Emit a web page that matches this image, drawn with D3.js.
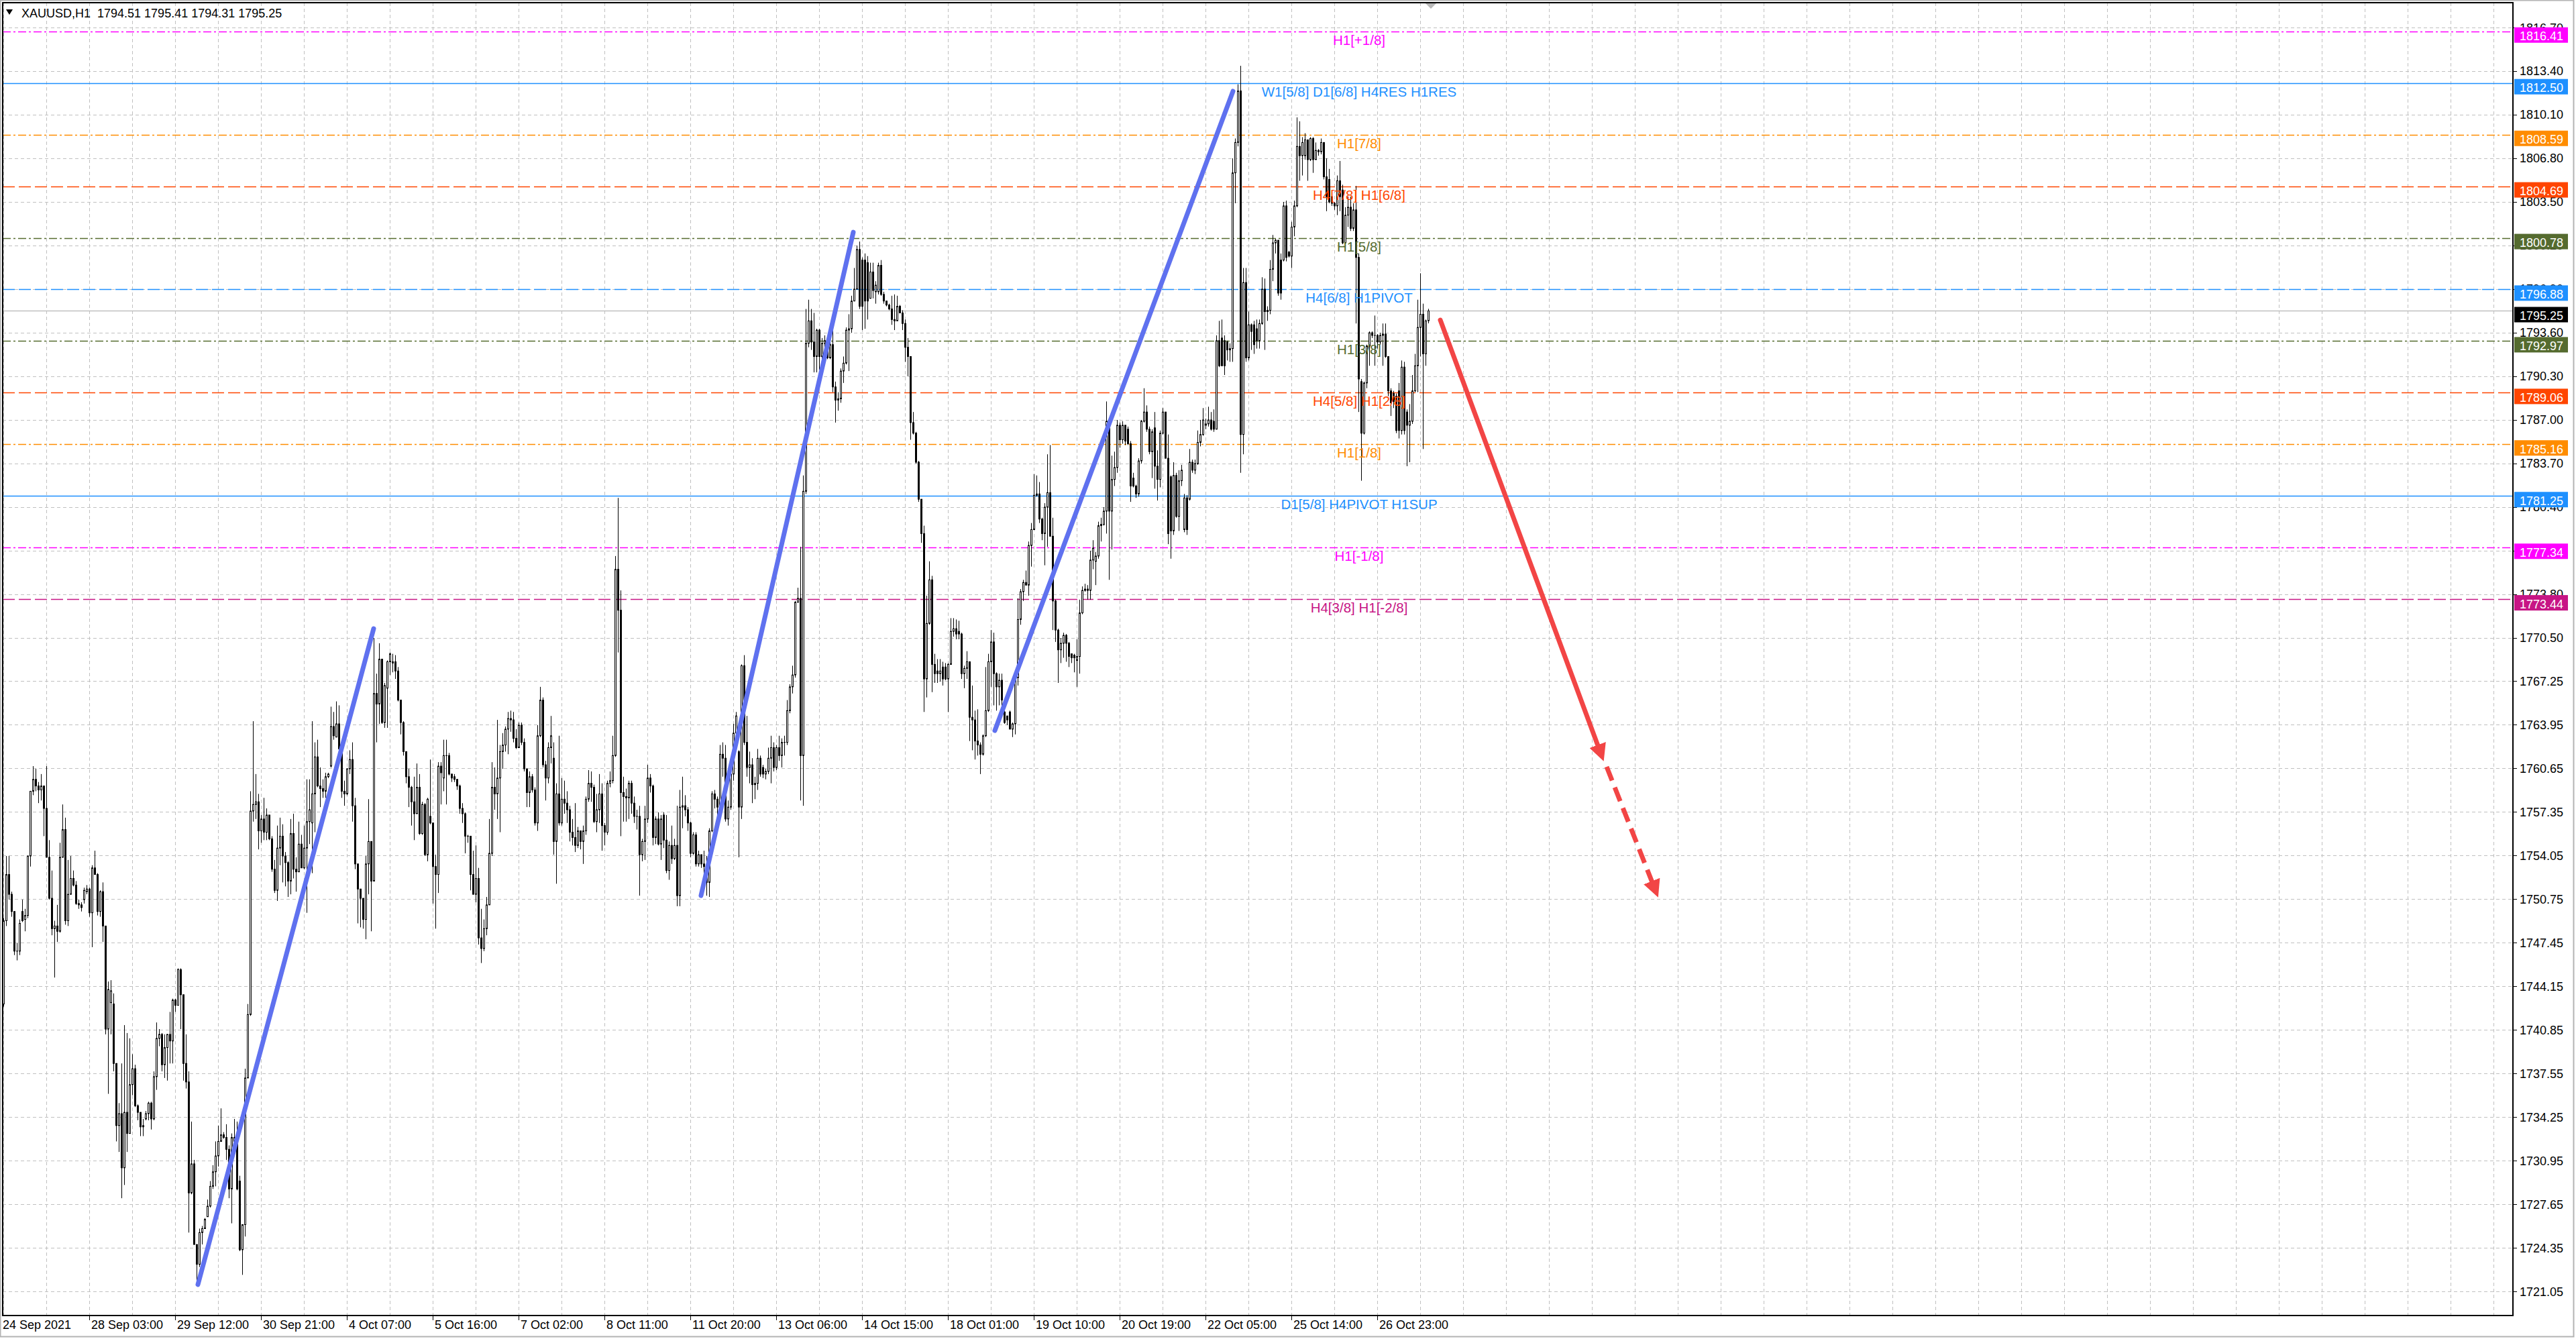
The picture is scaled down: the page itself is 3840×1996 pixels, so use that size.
<!DOCTYPE html>
<html>
<head>
<meta charset="utf-8">
<script src="https://cdn.jsdelivr.net/npm/d3@7"></script>
<style>
  html, body { margin: 0; padding: 0; background: #fff; }
  svg { display: block; }
  text { font-family: "Liberation Sans", Arial, sans-serif; }
</style>
</head>
<body>
<div id="chart"></div>
<script>
// XAUUSD H1 bars (one entry per hourly bar)
const opens = [
1744.0,1742.8,1749.1,1752.6,1751.1,1749.8,1746.8,1746.8,1749.8,1749.2,
1749.5,1754.0,1758.9,1759.8,1759.3,1759.0,1759.3,1757.6,1753.9,1750.8,
1748.5,1748.7,1748.3,1753.9,1756.0,1749.1,1751.1,1752.3,1751.8,1750.4,
1750.3,1750.7,1751.3,1751.5,1749.7,1753.1,1752.6,1749.8,1751.3,1748.7,
1740.9,1742.9,1742.8,1738.3,1733.6,1734.5,1730.4,1734.6,1733.0,1736.7,
1737.9,1735.1,1734.6,1733.5,1734.1,1734.5,1735.3,1734.1,1737.3,1740.2,
1740.5,1738.2,1739.5,1740.5,1740.0,1743.1,1742.7,1745.4,1743.5,1738.3,
1736.9,1728.5,1730.7,1724.6,1723.1,1725.5,1725.8,1726.7,1727.5,1729.0,
1730.1,1731.3,1732.4,1732.9,1732.7,1731.8,1728.8,1732.4,1732.7,1729.4,
1724.2,1726.1,1737.2,1742.0,1757.4,1757.9,1758.1,1755.9,1756.8,1755.8,
1757.1,1755.3,1753.0,1751.4,1754.6,1755.5,1754.0,1753.5,1752.1,1755.7,
1753.0,1752.8,1754.9,1753.1,1754.6,1756.6,1756.5,1758.7,1761.5,1759.3,
1759.1,1758.9,1760.0,1760.8,1763.8,1763.0,1764.0,1762.1,1758.9,1758.7,
1760.6,1761.3,1757.8,1753.4,1751.5,1750.8,1749.2,1753.4,1755.1,1752.1,
1766.3,1765.5,1768.9,1764.1,1766.7,1768.7,1768.6,1768.7,1768.0,1765.8,
1764.1,1761.9,1760.0,1759.2,1758.1,1757.2,1759.2,1755.7,1757.9,1754.1,
1757.0,1756.5,1753.2,1752.6,1760.8,1759.9,1761.6,1761.6,1760.2,1760.0,
1759.8,1759.3,1757.6,1757.2,1755.5,1755.5,1752.6,1751.1,1752.3,1747.8,
1747.0,1748.5,1750.3,1754.2,1759.2,1758.7,1759.9,1761.9,1762.4,1763.6,
1764.4,1764.3,1762.9,1762.2,1763.9,1762.6,1760.6,1758.8,1760.0,1759.0,
1756.5,1763.1,1765.8,1760.9,1759.9,1762.2,1761.4,1755.1,1758.7,1756.5,
1758.3,1758.0,1757.5,1755.8,1755.4,1754.8,1755.9,1755.1,1755.9,1758.3,
1759.5,1759.2,1756.6,1757.5,1758.7,1756.3,1755.8,1759.5,1759.7,1761.6,
1775.7,1772.6,1758.8,1758.5,1758.4,1759.5,1758.0,1757.0,1757.0,1754.1,
1755.1,1756.8,1759.9,1759.3,1755.4,1756.8,1754.9,1757.1,1755.2,1752.9,
1754.8,1753.8,1754.8,1751.0,1757.7,1757.8,1757.5,1756.5,1754.2,1755.6,
1753.4,1754.1,1753.4,1753.2,1752.0,1755.9,1758.7,1758.3,1757.7,1761.7,
1761.4,1756.8,1757.7,1760.2,1763.3,1761.9,1757.7,1768.4,1762.6,1760.7,
1760.9,1759.4,1759.5,1761.4,1760.7,1760.2,1760.4,1761.4,1762.2,1760.7,
1762.2,1761.6,1762.6,1762.6,1765.0,1766.8,1767.7,1773.2,1773.5,1761.6,
1781.6,1792.8,1794.5,1792.9,1791.8,1793.8,1791.8,1792.8,1793.0,1791.7,
1792.7,1789.5,1788.5,1788.6,1790.7,1791.3,1793.8,1793.9,1796.0,1796.9,
1799.9,1799.1,1799.1,1798.9,1796.2,1798.2,1796.7,1796.7,1798.7,1796.5,
1796.0,1795.7,1795.4,1794.6,1794.5,1795.6,1795.1,1794.3,1792.5,1791.8,
1786.8,1786.0,1783.8,1781.0,1778.4,1767.4,1771.6,1774.9,1768.5,1768.0,
1767.8,1768.3,1768.3,1767.4,1768.5,1771.0,1771.2,1771.0,1770.8,1767.8,
1768.2,1768.7,1764.5,1764.3,1762.7,1762.4,1761.7,1763.1,1765.0,1768.7,
1770.2,1767.8,1766.8,1767.3,1764.9,1764.6,1764.9,1763.6,1764.0,1767.5,
1771.9,1774.0,1774.7,1774.5,1777.5,1778.7,1781.3,1781.4,1779.5,1778.4,
1780.4,1781.5,1778.2,1773.3,1771.1,1769.6,1770.1,1770.7,1770.1,1769.3,
1769.2,1768.8,1769.1,1772.4,1774.1,1774.2,1774.1,1776.4,1776.3,1776.7,
1779.0,1779.1,1780.1,1786.9,1780.1,1782.5,1783.4,1786.6,1785.5,1786.6,
1786.3,1785.2,1782.6,1782.0,1781.4,1783.9,1786.9,1787.6,1786.3,1784.6,
1786.4,1783.5,1782.5,1786.0,1787.6,1784.1,1782.7,1778.6,1782.8,1779.7,
1782.4,1778.7,1781.1,1781.0,1783.8,1783.2,1783.7,1785.3,1785.9,1786.6,
1786.7,1787.0,1786.9,1786.3,1793.0,1793.2,1793.0,1792.9,1792.3,1792.4,
1805.7,1808.0,1811.9,1785.9,1797.4,1791.7,1794.2,1794.2,1793.9,1793.0,
1794.3,1796.9,1795.2,1795.3,1798.4,1800.4,1800.6,1799.1,1799.1,1803.2,
1799.7,1799.4,1801.6,1803.2,1807.7,1807.0,1807.0,1808.2,1806.7,1808.3,
1806.7,1807.4,1807.3,1808.0,1805.4,1805.2,1803.9,1803.4,1803.2,1805.1,
1804.4,1800.4,1802.5,1803.1,1801.5,1802.9,1799.3,1789.9,1786.0,1789.8,
1792.6,1793.6,1793.4,1793.4,1792.9,1793.4,1793.5,1791.8,1789.2,1789.0,
1788.8,1789.2,1786.2,1791.0,1787.6,1786.6,1786.9,1789.2,1791.1,1794.0,
1795.0,1792.0,1794.51
];
const highs = [
1746.0,1749.3,1754.0,1754.0,1751.3,1749.8,1747.4,1749.2,1750.7,1750.0,
1754.0,1758.9,1760.8,1760.6,1759.6,1760.2,1759.3,1760.8,1755.2,1752.9,
1749.1,1750.3,1755.0,1757.9,1756.9,1753.7,1754.0,1752.9,1752.1,1750.7,
1750.5,1751.6,1751.8,1751.6,1753.3,1754.4,1752.7,1751.4,1752.0,1748.7,
1744.5,1744.6,1743.6,1738.3,1735.3,1738.3,1741.2,1740.6,1740.2,1739.0,
1738.2,1735.2,1734.6,1734.1,1734.7,1735.4,1735.4,1737.7,1741.4,1740.9,
1740.6,1740.5,1740.5,1742.2,1743.2,1743.2,1745.5,1745.5,1743.5,1740.5,
1737.7,1733.9,1731.0,1724.6,1725.8,1726.0,1726.6,1728.0,1729.4,1730.6,
1732.4,1733.6,1734.9,1733.1,1733.7,1732.1,1733.0,1734.1,1733.9,1729.8,
1726.1,1737.9,1742.8,1758.9,1764.2,1760.2,1758.7,1757.1,1758.4,1757.6,
1757.1,1755.5,1753.7,1756.3,1756.9,1756.4,1754.3,1753.6,1756.8,1757.2,
1753.9,1756.6,1755.6,1756.3,1759.8,1759.8,1764.2,1762.6,1762.8,1760.7,
1759.8,1760.3,1760.3,1765.3,1764.9,1765.7,1765.4,1762.1,1759.7,1760.6,
1762.0,1762.6,1758.4,1753.4,1751.5,1750.8,1754.0,1758.3,1755.1,1770.5,
1767.8,1770.1,1768.9,1767.1,1768.8,1769.4,1769.3,1769.2,1768.3,1765.8,
1764.2,1761.9,1760.6,1759.3,1760.0,1761.0,1760.2,1758.1,1758.0,1758.4,
1761.3,1756.5,1754.1,1761.1,1761.1,1762.8,1762.8,1761.8,1760.2,1760.2,
1759.8,1759.4,1758.0,1757.3,1755.6,1755.5,1754.4,1754.8,1753.1,1750.0,
1749.2,1750.9,1756.8,1761.1,1760.7,1764.3,1762.4,1763.3,1763.8,1764.9,
1765.0,1764.9,1763.6,1764.1,1764.1,1762.9,1760.6,1760.4,1760.2,1759.2,
1763.9,1766.8,1766.0,1761.2,1762.6,1764.6,1762.6,1759.5,1763.1,1759.9,
1759.7,1758.9,1757.8,1756.8,1758.0,1756.2,1755.9,1756.3,1758.5,1760.5,
1760.4,1759.4,1758.7,1760.2,1759.5,1756.5,1759.7,1760.4,1763.1,1776.7,
1781.1,1774.1,1760.0,1759.1,1759.7,1759.7,1758.5,1757.5,1757.8,1755.3,
1757.8,1760.9,1760.2,1759.4,1757.0,1757.3,1757.1,1757.3,1757.1,1755.1,
1756.3,1755.3,1757.8,1759.0,1760.0,1758.6,1757.7,1756.6,1755.8,1755.8,
1754.4,1754.1,1754.4,1754.0,1756.1,1758.9,1759.0,1758.5,1762.4,1762.6,
1762.4,1758.2,1760.4,1764.0,1764.9,1762.0,1768.5,1769.2,1764.6,1761.9,
1761.4,1760.0,1762.1,1761.6,1760.9,1760.6,1762.2,1763.1,1762.6,1762.4,
1763.1,1762.9,1763.1,1765.8,1767.0,1768.4,1773.3,1774.3,1777.4,1782.8,
1795.4,1796.1,1795.4,1795.1,1793.9,1793.9,1793.2,1793.4,1793.2,1793.6,
1793.8,1789.9,1789.1,1790.9,1791.8,1794.0,1795.0,1796.4,1798.5,1800.2,
1800.5,1799.3,1799.6,1799.4,1798.9,1798.9,1797.5,1798.9,1799.1,1796.7,
1796.0,1795.8,1796.4,1796.5,1796.4,1795.7,1795.3,1794.6,1793.2,1791.8,
1787.6,1786.1,1783.9,1781.0,1779.0,1773.7,1776.3,1775.2,1769.3,1768.9,
1768.9,1768.7,1768.6,1768.6,1772.0,1772.0,1771.9,1771.8,1770.9,1768.4,
1769.5,1768.7,1766.9,1765.0,1765.1,1762.6,1763.2,1768.3,1769.3,1771.1,
1770.9,1767.9,1767.8,1767.8,1765.0,1764.6,1765.0,1764.1,1767.6,1773.5,
1774.2,1774.9,1775.6,1777.8,1779.2,1782.9,1782.8,1782.3,1779.6,1780.7,
1784.4,1785.1,1779.6,1773.4,1771.2,1770.5,1770.9,1770.8,1770.2,1769.3,
1769.3,1770.4,1773.4,1774.4,1774.6,1774.5,1777.1,1777.9,1777.0,1779.3,
1779.6,1780.4,1788.4,1787.0,1784.3,1784.6,1787.0,1786.8,1786.9,1786.6,
1786.5,1785.4,1783.0,1782.1,1784.1,1787.0,1789.4,1788.1,1786.5,1786.3,
1787.6,1784.7,1786.2,1787.9,1787.6,1785.9,1782.8,1783.8,1783.0,1783.2,
1783.6,1781.4,1781.3,1784.8,1784.0,1784.0,1786.2,1787.0,1787.9,1787.1,
1788.0,1787.6,1787.8,1793.4,1794.5,1794.6,1793.4,1793.0,1792.8,1806.8,
1808.3,1812.4,1813.8,1798.5,1798.5,1795.2,1794.3,1794.5,1794.6,1794.6,
1797.8,1797.7,1795.6,1799.1,1801.0,1800.7,1800.6,1799.6,1803.5,1803.6,
1799.8,1802.0,1803.6,1809.9,1809.6,1808.4,1808.7,1808.2,1808.4,1808.4,
1808.0,1807.5,1808.3,1808.0,1806.8,1806.0,1804.2,1803.5,1805.5,1806.6,
1804.8,1803.1,1803.9,1803.9,1803.4,1804.7,1799.6,1790.1,1789.9,1792.7,
1793.7,1793.7,1794.9,1793.5,1793.6,1794.3,1794.3,1791.8,1789.4,1789.2,
1789.0,1789.8,1791.5,1791.4,1787.8,1788.2,1790.4,1792.0,1796.1,1798.1,
1795.8,1794.6,1795.41
];
const lows = [
1742.0,1742.6,1748.7,1750.7,1749.4,1746.5,1746.1,1746.5,1749.0,1748.3,
1749.3,1753.2,1758.6,1758.9,1758.0,1758.2,1755.5,1753.9,1750.7,1748.0,
1744.8,1747.5,1748.2,1753.9,1748.8,1748.7,1751.1,1751.7,1750.3,1750.0,
1749.8,1750.4,1751.1,1749.4,1747.1,1752.6,1749.5,1749.4,1747.5,1740.5,
1736.0,1740.5,1737.7,1732.4,1731.6,1728.1,1729.1,1731.6,1733.0,1735.9,
1735.0,1734.0,1732.8,1732.8,1734.0,1734.0,1733.3,1734.0,1736.3,1739.6,
1737.7,1737.2,1737.0,1738.3,1738.3,1742.2,1742.7,1740.9,1737.0,1736.4,
1725.5,1728.4,1724.6,1721.6,1722.9,1724.6,1725.8,1726.7,1727.4,1728.8,
1729.0,1730.5,1732.4,1732.6,1731.0,1728.1,1726.2,1732.4,1728.7,1724.1,
1722.3,1725.2,1737.2,1741.9,1756.6,1756.8,1754.5,1755.0,1755.2,1755.2,
1755.2,1752.8,1751.2,1750.6,1753.3,1752.0,1751.7,1750.9,1751.1,1752.3,
1751.3,1752.8,1753.1,1753.0,1749.7,1754.9,1752.7,1755.8,1759.2,1757.7,
1758.4,1758.4,1759.9,1760.7,1762.8,1763.0,1762.0,1758.4,1757.8,1758.6,
1760.2,1756.6,1753.0,1748.9,1748.6,1748.5,1747.7,1751.1,1748.3,1752.1,
1762.6,1764.0,1764.0,1763.7,1763.7,1767.7,1767.9,1767.4,1765.7,1763.2,
1761.6,1759.5,1757.7,1756.3,1755.2,1757.2,1755.6,1755.6,1754.0,1753.6,
1756.4,1750.4,1748.5,1751.2,1757.9,1758.9,1757.9,1760.1,1759.6,1759.6,
1759.0,1757.2,1756.5,1754.2,1755.0,1751.4,1751.1,1750.5,1747.3,1745.9,
1746.8,1748.0,1750.3,1754.0,1757.5,1756.8,1755.8,1760.6,1761.9,1761.7,
1763.4,1762.6,1762.1,1762.2,1762.4,1760.4,1757.7,1757.7,1758.8,1756.3,
1755.9,1763.0,1760.7,1758.2,1759.5,1761.0,1754.1,1751.9,1756.3,1756.3,
1757.2,1756.5,1755.1,1754.8,1754.3,1754.6,1754.5,1753.4,1755.6,1758.1,
1758.1,1756.5,1755.8,1756.5,1754.4,1754.8,1755.6,1759.2,1759.5,1761.5,
1769.4,1755.5,1756.6,1756.6,1756.8,1757.2,1756.5,1756.0,1751.0,1753.6,
1753.7,1756.5,1758.8,1754.8,1754.9,1754.8,1753.7,1754.6,1752.7,1752.2,
1753.4,1753.7,1750.2,1750.2,1756.1,1757.0,1755.9,1753.9,1754.1,1753.2,
1753.2,1753.1,1752.4,1751.0,1750.9,1755.8,1757.6,1756.6,1757.6,1760.0,
1756.6,1756.3,1757.5,1759.7,1762.9,1753.9,1756.8,1762.4,1760.0,1759.5,
1758.0,1758.3,1759.0,1760.0,1759.9,1759.8,1760.2,1759.5,1760.4,1760.5,
1761.2,1760.7,1761.6,1762.4,1764.8,1766.3,1767.5,1773.2,1758.2,1757.8,
1781.4,1792.5,1792.3,1790.6,1790.6,1790.8,1791.5,1792.0,1791.6,1791.6,
1789.1,1786.8,1787.7,1788.3,1789.8,1791.2,1790.7,1793.6,1796.0,1796.9,
1795.4,1793.8,1793.9,1794.6,1796.2,1796.2,1795.8,1796.5,1796.4,1795.8,
1795.6,1795.3,1794.2,1793.8,1794.5,1795.1,1793.8,1791.4,1790.3,1785.5,
1785.9,1783.7,1780.8,1777.7,1764.9,1766.0,1771.5,1766.4,1767.1,1767.1,
1767.2,1766.9,1767.3,1764.9,1768.5,1770.6,1770.4,1770.4,1767.4,1766.7,
1767.4,1762.7,1762.0,1761.3,1761.6,1760.2,1761.6,1763.0,1764.9,1766.8,
1765.4,1765.0,1765.4,1765.0,1764.0,1763.9,1763.6,1763.0,1763.2,1766.9,
1771.5,1773.3,1774.5,1773.7,1775.9,1778.7,1781.2,1779.2,1777.9,1776.0,
1777.4,1778.2,1771.1,1770.2,1767.1,1768.6,1769.0,1768.7,1768.3,1768.6,
1767.9,1766.8,1767.8,1772.3,1774.0,1773.4,1773.4,1775.7,1774.5,1776.5,
1777.8,1779.0,1778.4,1774.9,1777.2,1782.0,1783.0,1784.9,1785.2,1785.1,
1785.1,1780.8,1781.9,1781.1,1781.2,1783.7,1786.8,1786.1,1784.4,1782.6,
1781.8,1780.9,1781.9,1785.9,1784.1,1777.6,1776.5,1778.3,1779.6,1778.6,
1782.0,1778.5,1778.3,1780.9,1783.0,1782.9,1783.6,1785.0,1785.8,1786.3,
1786.5,1786.2,1786.1,1786.3,1791.0,1791.1,1790.4,1791.5,1791.4,1791.4,
1803.4,1807.7,1783.0,1784.4,1791.4,1791.5,1792.3,1792.0,1792.4,1792.4,
1794.2,1792.3,1794.5,1795.0,1797.5,1799.6,1796.4,1796.1,1799.0,1799.0,
1799.3,1798.5,1800.9,1803.1,1805.1,1805.5,1806.7,1805.1,1806.6,1805.7,
1806.7,1807.0,1807.1,1805.2,1802.8,1803.4,1803.2,1802.9,1802.5,1802.8,
1800.3,1800.3,1801.6,1801.3,1801.3,1794.3,1787.6,1782.4,1785.9,1789.4,
1791.1,1793.2,1791.1,1792.4,1792.7,1791.1,1791.7,1788.8,1787.3,1787.9,
1786.0,1785.6,1785.9,1785.9,1783.5,1783.8,1786.7,1789.1,1789.1,1791.8,
1784.8,1791.1,1794.31
];
const closes = [
1742.8,1749.1,1752.6,1751.1,1749.8,1746.8,1746.8,1748.9,1749.1,1749.5,
1754.0,1758.9,1759.8,1759.3,1759.0,1759.3,1757.6,1753.9,1750.8,1748.5,
1748.7,1748.3,1753.9,1756.0,1749.1,1751.1,1752.3,1751.8,1750.4,1750.3,
1750.1,1751.4,1751.5,1749.7,1753.1,1752.6,1749.8,1751.3,1748.7,1740.9,
1743.9,1743.8,1738.3,1733.6,1734.5,1730.4,1734.6,1733.0,1736.7,1737.9,
1735.1,1734.6,1733.5,1733.6,1734.5,1735.3,1734.1,1737.3,1740.2,1740.5,
1738.2,1739.5,1740.5,1740.0,1743.1,1742.7,1745.4,1743.5,1738.3,1736.9,
1728.5,1730.7,1724.6,1723.1,1725.5,1725.8,1726.5,1727.5,1729.0,1730.1,
1731.3,1732.4,1732.9,1732.7,1731.8,1728.8,1732.7,1732.7,1728.8,1724.2,
1726.1,1737.2,1742.0,1757.4,1757.9,1758.1,1755.9,1756.8,1755.8,1757.1,
1755.3,1753.0,1751.4,1754.6,1755.5,1754.0,1753.5,1752.1,1755.7,1753.0,
1752.8,1754.9,1753.1,1754.6,1756.6,1757.5,1758.7,1761.5,1759.3,1759.1,
1758.9,1760.0,1760.2,1763.8,1763.1,1764.0,1762.1,1758.9,1758.7,1760.6,
1761.3,1757.8,1753.4,1751.5,1750.8,1749.2,1753.4,1755.1,1752.1,1766.3,
1765.5,1768.9,1764.1,1766.9,1768.7,1769.3,1768.7,1768.0,1765.8,1764.1,
1761.9,1760.0,1759.2,1758.1,1757.2,1759.2,1755.7,1757.9,1754.1,1758.3,
1756.5,1753.2,1752.6,1760.8,1760.3,1761.6,1761.6,1760.2,1759.9,1759.8,
1759.3,1757.6,1757.2,1755.5,1755.5,1752.6,1751.1,1752.3,1747.8,1747.0,
1748.5,1750.3,1754.2,1759.2,1758.7,1759.9,1761.9,1762.4,1763.6,1764.4,
1764.3,1762.9,1762.2,1763.9,1762.6,1760.6,1758.8,1760.0,1759.0,1756.5,
1763.1,1765.8,1760.9,1759.9,1762.2,1763.1,1755.1,1758.7,1756.5,1758.3,
1758.0,1757.5,1755.8,1755.4,1754.8,1755.9,1755.1,1755.9,1758.3,1759.5,
1759.2,1756.6,1757.5,1758.7,1756.3,1755.8,1759.5,1759.7,1761.6,1775.7,
1772.6,1758.8,1758.5,1758.4,1759.5,1758.0,1757.0,1757.0,1754.1,1755.1,
1756.8,1759.9,1759.3,1755.4,1756.8,1754.9,1756.8,1755.2,1752.9,1754.8,
1753.8,1754.8,1751.0,1757.7,1757.8,1757.5,1756.5,1754.2,1755.6,1753.4,
1754.1,1753.4,1753.2,1752.0,1755.9,1758.7,1758.3,1757.7,1761.7,1761.4,
1756.8,1757.7,1760.2,1763.3,1764.6,1757.7,1768.4,1762.6,1760.7,1760.9,
1759.4,1759.5,1761.4,1760.2,1760.2,1760.4,1761.4,1762.2,1760.7,1762.2,
1761.6,1762.6,1762.6,1765.0,1766.8,1767.7,1773.2,1773.5,1761.6,1781.6,
1792.8,1794.5,1792.9,1791.8,1793.8,1791.8,1792.8,1793.0,1791.7,1792.7,
1789.5,1788.5,1788.6,1790.7,1791.3,1793.8,1793.9,1796.0,1796.9,1799.9,
1795.6,1795.6,1796.0,1796.0,1798.2,1796.8,1797.2,1798.7,1796.5,1796.0,
1795.7,1795.4,1794.6,1794.5,1795.6,1795.1,1794.3,1792.5,1791.8,1786.8,
1786.0,1783.8,1781.0,1778.4,1767.4,1771.6,1774.9,1768.5,1767.8,1767.8,
1768.0,1767.4,1767.4,1768.5,1771.0,1771.2,1770.8,1770.8,1767.8,1768.2,
1768.7,1764.5,1764.3,1762.7,1762.4,1761.7,1763.1,1765.0,1768.7,1770.2,
1767.8,1766.8,1767.3,1765.8,1764.1,1764.3,1763.6,1764.0,1767.5,1771.9,
1774.0,1774.7,1774.5,1777.5,1778.7,1781.3,1781.4,1779.5,1778.4,1780.4,
1781.5,1778.2,1773.3,1771.1,1769.6,1770.1,1770.7,1770.1,1769.1,1769.0,
1769.0,1769.1,1772.4,1774.1,1774.2,1774.1,1776.4,1777.3,1776.7,1779.0,
1779.1,1780.1,1786.9,1780.1,1782.5,1783.4,1786.6,1785.5,1786.6,1785.4,
1785.2,1782.0,1782.0,1781.4,1783.9,1786.9,1787.6,1786.3,1784.6,1786.1,
1783.5,1782.5,1786.0,1787.6,1784.1,1778.4,1778.6,1782.8,1779.7,1782.4,
1783.2,1781.1,1778.7,1783.8,1783.2,1783.7,1785.3,1785.9,1787.0,1786.7,
1787.0,1786.3,1786.3,1793.0,1791.1,1791.1,1791.1,1792.3,1792.4,1805.7,
1808.0,1811.9,1785.9,1797.4,1791.7,1794.2,1793.7,1792.7,1793.0,1794.3,
1796.9,1795.2,1795.3,1798.4,1800.4,1800.6,1796.6,1796.6,1803.2,1799.3,
1799.4,1801.6,1803.2,1807.7,1807.0,1808.0,1808.2,1806.7,1808.3,1806.7,
1807.4,1807.3,1808.0,1805.4,1803.9,1803.5,1803.4,1803.2,1805.1,1803.9,
1800.4,1802.5,1803.1,1801.5,1802.9,1799.3,1790.1,1786.0,1789.8,1792.6,
1793.6,1793.4,1793.4,1792.9,1793.4,1793.5,1791.8,1789.2,1788.3,1788.4,
1786.2,1786.2,1791.0,1786.2,1786.6,1786.9,1789.2,1791.1,1794.0,1795.0,
1792.0,1794.5,1795.25
];

// Time axis labels (one every 32 bars after the first)
const timeLabels = ["24 Sep 2021", "28 Sep 03:00", "29 Sep 12:00", "30 Sep 21:00", "4 Oct 07:00",
  "5 Oct 16:00", "7 Oct 02:00", "8 Oct 11:00", "11 Oct 20:00", "13 Oct 06:00", "14 Oct 15:00",
  "18 Oct 01:00", "19 Oct 10:00", "20 Oct 19:00", "22 Oct 05:00", "25 Oct 14:00", "26 Oct 23:00"];
const timeLabelBars = [0, 33, 65, 97, 129, 161, 193, 225, 257, 289, 321, 353, 385, 417, 449, 481, 513];

// Price axis ticks
const priceTicks = [1816.70, 1813.40, 1810.10, 1806.80, 1803.50, 1800.20, 1796.90, 1793.60, 1790.30,
  1787.00, 1783.70, 1780.40, 1777.10, 1773.80, 1770.50, 1767.25, 1763.95, 1760.65, 1757.35, 1754.05,
  1750.75, 1747.45, 1744.15, 1740.85, 1737.55, 1734.25, 1730.95, 1727.65, 1724.35, 1721.05];

// Murrey-math style levels
const levelPrices = [1816.41, 1812.50, 1808.59, 1804.69, 1800.78, 1796.88, 1792.97, 1789.06, 1785.16, 1781.25, 1777.34, 1773.44];
const levelNames = ["H1[+1/8]", "W1[5/8] D1[6/8] H4RES H1RES", "H1[7/8]", "H4[7/8] H1[6/8]", "H1[5/8]",
  "H4[6/8] H1PIVOT", "H1[3/8]", "H4[5/8] H1[2/8]", "H1[1/8]", "D1[5/8] H4PIVOT H1SUP", "H1[-1/8]", "H4[3/8] H1[-2/8]"];
const levelColors = ["#ff00ff", "#1e90ff", "#ff8c00", "#ff4500", "#556b2f", "#1e90ff",
  "#556b2f", "#ff4500", "#ff8c00", "#1e90ff", "#ff00ff", "#c71585"];
const levelStyles = ["dashdot", "solid", "dashdot", "dash", "dashdot", "dash",
  "dashdot", "dash", "dashdot", "solid", "dashdot", "dash"];
const bidPrice = 1795.25;

// Hand-drawn trend lines, [bar, price] pairs
const trendStarts = [[73.5, 1721.56], [261, 1751.00], [370.5, 1763.49]];
const trendEnds = [[139, 1771.21], [317.75, 1801.21], [459.25, 1811.88]];
// Forecast arrows: solid then dashed
const arrowStarts = [[536.5, 1794.56], [598.5, 1760.75]];
const arrowEnds = [[596.5, 1761.66], [616.75, 1751.36]];

const width = 3840;
const height = 1996;
const plot = { left: 4, top: 4, right: 3746, bottom: 1961 };

const svg = d3.select('#chart')
  .append('svg')
  .attr('width', width)
  .attr('height', height);

svg.append('rect').attr('width', width).attr('height', height).attr('fill', '#fff');
// window frame
svg.append('rect')
  .attr('x', 0.5).attr('y', 0.5).attr('width', width - 4).attr('height', height - 4)
  .attr('fill', 'none').attr('stroke', '#b4b4b4').attr('stroke-width', 2);

const x = d3.scaleLinear().domain([0, 936]).range([1, 3745]);
const y = d3.scaleLinear().domain([1721.05, 1816.70]).range([1925, 41]);

const defs = svg.append('defs');
defs.append('clipPath').attr('id', 'plotClip')
  .append('rect')
  .attr('x', plot.left).attr('y', plot.top)
  .attr('width', plot.right - plot.left).attr('height', plot.bottom - plot.top);

defs.append('marker')
  .attr('id', 'redHead')
  .attr('viewBox', '0 0 10 10')
  .attr('refX', 6).attr('refY', 5)
  .attr('markerWidth', 26).attr('markerHeight', 26)
  .attr('markerUnits', 'userSpaceOnUse')
  .attr('orient', 'auto')
  .append('path')
  .attr('d', 'M0,0 L10,5 L0,10 Z')
  .attr('fill', '#f24545');

// grid
const grid = svg.append('g').attr('clip-path', 'url(#plotClip)');
grid.selectAll('.hgrid')
  .data(priceTicks)
  .enter()
  .append('line')
  .attr('class', 'hgrid')
  .attr('x1', plot.left).attr('x2', plot.right)
  .attr('y1', d => Math.round(y(d)) + 0.5).attr('y2', d => Math.round(y(d)) + 0.5)
  .attr('stroke', '#c0c0c0').attr('stroke-width', 1).attr('stroke-dasharray', '5,4');

const gridBars = d3.range(1, 936, 16);
grid.selectAll('.vgrid')
  .data(gridBars)
  .enter()
  .append('line')
  .attr('class', 'vgrid')
  .attr('x1', d => Math.round(x(d)) + 0.5).attr('x2', d => Math.round(x(d)) + 0.5)
  .attr('y1', plot.top).attr('y2', plot.bottom)
  .attr('stroke', '#c0c0c0').attr('stroke-width', 1).attr('stroke-dasharray', '5,4');

// level lines
const dashFor = s => s === 'dashdot' ? '12,4,3,4' : (s === 'dash' ? '18,6' : null);
const levels = levelPrices.map((p, i) => ({ p, name: levelNames[i], color: levelColors[i], style: levelStyles[i] }));

grid.selectAll('.level')
  .data(levels)
  .enter()
  .append('line')
  .attr('class', 'level')
  .attr('x1', plot.left).attr('x2', plot.right)
  .attr('y1', d => Math.round(y(d.p)) + 0.5).attr('y2', d => Math.round(y(d.p)) + 0.5)
  .attr('stroke', d => d.color).attr('stroke-width', 1.3)
  .attr('stroke-dasharray', d => dashFor(d.style));

grid.append('line')
  .attr('x1', plot.left).attr('x2', plot.right)
  .attr('y1', Math.round(y(bidPrice)) + 0.5).attr('y2', Math.round(y(bidPrice)) + 0.5)
  .attr('stroke', '#c0c0c0').attr('stroke-width', 1.3);

// candles
const bars = closes.map((c, i) => {
  const o = opens[i];
  return { i, o, c, h: Math.max(highs[i], o, c), l: Math.min(lows[i], o, c) };
});
const cg = svg.append('g').attr('clip-path', 'url(#plotClip)');
const cx = d => Math.round(x(d.i)) + 0.5;

cg.selectAll('.wick')
  .data(bars)
  .enter()
  .append('line')
  .attr('class', 'wick')
  .attr('x1', cx).attr('x2', cx)
  .attr('y1', d => y(d.h)).attr('y2', d => y(d.l))
  .attr('stroke', '#000').attr('stroke-width', 1);

cg.selectAll('.body')
  .data(bars)
  .enter()
  .append('rect')
  .attr('class', 'body')
  .attr('x', d => cx(d) - 1)
  .attr('width', 2)
  .attr('y', d => y(Math.max(d.o, d.c)))
  .attr('height', d => Math.max(0.01, y(Math.min(d.o, d.c)) - y(Math.max(d.o, d.c))))
  .attr('fill', d => d.c >= d.o ? '#fff' : '#000')
  .attr('stroke', '#000').attr('stroke-width', 1);

// level captions
cg.selectAll('.caption')
  .data(levels)
  .enter()
  .append('text')
  .attr('class', 'caption')
  .attr('x', x(506.25))
  .attr('y', d => y(d.p) + 20)
  .attr('text-anchor', 'middle')
  .style('font-size', '20.5px')
  .style('fill', d => d.color)
  .text(d => d.name);

// trend lines
cg.selectAll('.trend')
  .data(trendStarts.map((s, i) => [s, trendEnds[i]]))
  .enter()
  .append('line')
  .attr('class', 'trend')
  .attr('x1', d => x(d[0][0])).attr('y1', d => y(d[0][1]))
  .attr('x2', d => x(d[1][0])).attr('y2', d => y(d[1][1]))
  .attr('stroke', '#5f71ef').attr('stroke-width', 7)
  .attr('stroke-linecap', 'round');

// forecast arrows
cg.selectAll('.arrow')
  .data(arrowStarts.map((s, i) => [s, arrowEnds[i], i]))
  .enter()
  .append('line')
  .attr('class', 'arrow')
  .attr('x1', d => x(d[0][0])).attr('y1', d => y(d[0][1]))
  .attr('x2', d => x(d[1][0])).attr('y2', d => y(d[1][1]))
  .attr('stroke', '#f24545').attr('stroke-width', 7)
  .attr('stroke-linecap', d => d[2] === 0 ? 'round' : 'butt')
  .attr('stroke-dasharray', d => d[2] === 1 ? '22,11' : null)
  .attr('marker-end', 'url(#redHead)');

// chart shift marker
svg.append('path')
  .attr('d', `M${x(533) - 8},${plot.top + 1} L${x(533) + 8},${plot.top + 1} L${x(533)},${plot.top + 9} Z`)
  .attr('fill', '#b8b8b8');

// plot frame
svg.append('rect')
  .attr('x', plot.left).attr('y', plot.top)
  .attr('width', plot.right - plot.left).attr('height', plot.bottom - plot.top)
  .attr('fill', 'none').attr('stroke', '#000').attr('stroke-width', 2);

// price axis
const axisY = svg.append('g');
axisY.selectAll('.ytick')
  .data(priceTicks)
  .enter()
  .append('line')
  .attr('x1', plot.right).attr('x2', plot.right + 6)
  .attr('y1', d => Math.round(y(d)) + 0.5).attr('y2', d => Math.round(y(d)) + 0.5)
  .attr('stroke', '#000').attr('stroke-width', 1);
axisY.selectAll('.ylabel')
  .data(priceTicks)
  .enter()
  .append('text')
  .attr('x', plot.right + 10)
  .attr('y', d => y(d) + 6.5)
  .style('font-size', '18px')
  .style('fill', '#000')
  .text(d => d.toFixed(2));

// price boxes
const boxes = levels.map(d => ({ p: d.p, color: d.color })).concat([{ p: bidPrice, color: '#000' }]);
const bg = svg.append('g');
bg.selectAll('rect')
  .data(boxes)
  .enter()
  .append('rect')
  .attr('x', plot.right + 2)
  .attr('y', d => y(d.p) - 6)
  .attr('width', 80).attr('height', 23)
  .attr('fill', d => d.color);
bg.selectAll('text')
  .data(boxes)
  .enter()
  .append('text')
  .attr('x', plot.right + 10)
  .attr('y', d => y(d.p) + 13.5)
  .style('font-size', '18px')
  .style('fill', '#fff')
  .text(d => d.p.toFixed(2));

// time axis
const axisX = svg.append('g');
axisX.selectAll('line')
  .data(timeLabelBars.slice(1))
  .enter()
  .append('line')
  .attr('x1', d => Math.round(x(d)) + 0.5).attr('x2', d => Math.round(x(d)) + 0.5)
  .attr('y1', plot.bottom).attr('y2', plot.bottom + 7)
  .attr('stroke', '#000').attr('stroke-width', 1);
axisX.selectAll('text')
  .data(timeLabels)
  .enter()
  .append('text')
  .attr('x', (d, i) => x(timeLabelBars[i]) + 3)
  .attr('y', plot.bottom + 20)
  .style('font-size', '18px')
  .style('fill', '#000')
  .text(d => d);

// header
const last = closes.length - 1;
svg.append('path').attr('d', 'M9,14 L19,14 L14,22 Z').attr('fill', '#000');
svg.append('text')
  .attr('x', 32).attr('y', 26)
  .attr('xml:space', 'preserve')
  .style('font-size', '18px')
  .style('fill', '#000')
  .style('white-space', 'pre')
  .text(`XAUUSD,H1  ${opens[last].toFixed(2)} ${highs[last].toFixed(2)} ${lows[last].toFixed(2)} ${closes[last].toFixed(2)}`);
</script>
</body>
</html>
